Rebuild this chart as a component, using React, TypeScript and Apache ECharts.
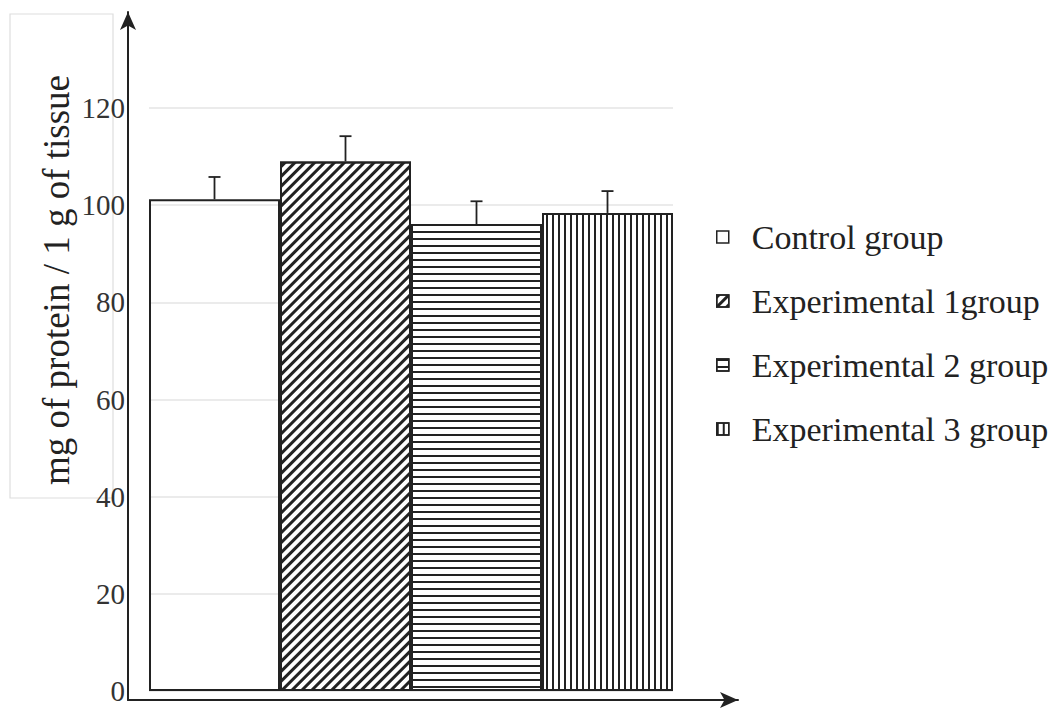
import React, { useEffect, useRef } from "react";
import * as echarts from "echarts";

const categories = ["Control group", "Experimental 1group", "Experimental 2 group", "Experimental 3 group"];
const means = [101.2, 109.0, 96.1, 98.4];
const errors = [4.6, 5.2, 4.7, 4.5];
const yMin = 0;
const yMax = 120;
const yStep = 20;
const yTitle = "mg of protein / 1 g of tissue";

const INK = "#222";
const SERIF = "'Liberation Serif', 'DejaVu Serif', serif";

const decals: any[] = [
  null,
  { symbol: "rect", symbolSize: 1, color: INK, dashArrayX: [1, 0], dashArrayY: [3, 4], rotation: -Math.PI / 4 },
  { symbol: "rect", symbolSize: 1, color: INK, dashArrayX: [1, 0], dashArrayY: [2, 5], rotation: 0 },
  { symbol: "rect", symbolSize: 1, color: INK, dashArrayX: [2, 4], dashArrayY: [1, 0], rotation: 0 },
];

export default function App() {
  const ref = useRef<HTMLDivElement>(null);
  useEffect(() => {
    if (!ref.current) return;
    const chart = echarts.init(ref.current, null, { renderer: "svg" });

    const barSeries = categories.map((name, i) => ({
      name,
      type: "bar",
      stack: "all",
      xAxisIndex: 1,
      yAxisIndex: 1,
      barCategoryGap: "0%",
      itemStyle: {
        color: i === 0 ? "rgba(255,255,255,0)" : "#fff",
        borderColor: INK,
        borderWidth: 2,
        decal: decals[i] || undefined,
      },
      data: categories.map((_, j) => (j === i ? means[i] : "-")),
    }));

    const errData = means.map((m, i) => [i, m, errors[i]]);

    chart.setOption({
      animation: false,
      aria: { enabled: false, decal: { show: true } },
      backgroundColor: "#fff",
      grid: [
        { left: 128, right: 316, top: 12, bottom: 9 },
        { left: 149, right: 381, top: 108, bottom: 18 },
      ],
      xAxis: [
        {
          gridIndex: 0,
          type: "value",
          min: 0,
          max: 1,
          axisLine: { show: true, onZero: false, symbol: ["none", "arrow"], symbolSize: [12, 18], lineStyle: { color: INK, width: 2 } },
          axisTick: { show: false },
          axisLabel: { show: false },
          splitLine: { show: false },
        },
        {
          gridIndex: 1,
          type: "category",
          data: categories,
          axisLine: { show: false },
          axisTick: { show: false },
          axisLabel: { show: false },
          splitLine: { show: false },
        },
      ],
      yAxis: [
        {
          gridIndex: 0,
          type: "value",
          min: 0,
          max: 1,
          axisLine: { show: true, onZero: false, symbol: ["none", "arrow"], symbolSize: [12, 18], lineStyle: { color: INK, width: 2 } },
          axisTick: { show: false },
          axisLabel: { show: false },
          splitLine: { show: false },
        },
        {
          gridIndex: 1,
          type: "value",
          min: yMin,
          max: yMax,
          interval: yStep,
          axisLine: { show: false },
          axisTick: { show: false },
          axisLabel: { show: true, margin: 24, fontSize: 29, fontFamily: SERIF, color: "#333" },
          splitLine: { show: true, lineStyle: { color: "#e4e4e4", width: 1.5 } },
        },
      ],
      legend: {
        orient: "vertical",
        left: 711,
        top: 212,
        itemWidth: 12,
        itemHeight: 12,
        itemGap: 24,
        icon: "rect",
        data: categories,
        itemStyle: { borderWidth: 1.5, borderColor: INK },
        textStyle: { fontSize: 34, fontFamily: SERIF, color: INK, lineHeight: 40, padding: [0, 0, 0, 18] },
      },
      graphic: [
        {
          type: "rect",
          shape: { x: 10, y: 14, width: 103, height: 484 },
          style: { fill: "none", stroke: "#dedede", lineWidth: 1.2 },
          silent: true,
        },
        {
          type: "text",
          x: 56,
          y: 280,
          rotation: Math.PI / 2,
          style: {
            text: yTitle,
            font: `37px ${SERIF}`,
            fill: INK,
            textAlign: "center",
            textVerticalAlign: "middle",
          },
          silent: true,
        },
      ],
      series: [
        ...barSeries,
        {
          type: "custom",
          xAxisIndex: 1,
          yAxisIndex: 1,
          z: 10,
          encode: { x: 0, y: 1 },
          data: errData,
          renderItem: (params: any, api: any) => {
            const xi = api.value(0);
            const m = api.value(1);
            const e = api.value(2);
            const base = api.coord([xi, m]);
            const top = api.coord([xi, m + e]);
            const style = { stroke: INK, lineWidth: 1.8 };
            return {
              type: "group",
              children: [
                { type: "line", shape: { x1: base[0], y1: base[1], x2: top[0], y2: top[1] }, style },
                { type: "line", shape: { x1: top[0] - 6, y1: top[1], x2: top[0] + 6, y2: top[1] }, style },
              ],
            };
          },
        },
      ],
    });
    return () => chart.dispose();
  }, []);
  return <div ref={ref} style={{ position: "fixed", left: 0, top: 0, width: 1054, height: 709 }} />;
}
